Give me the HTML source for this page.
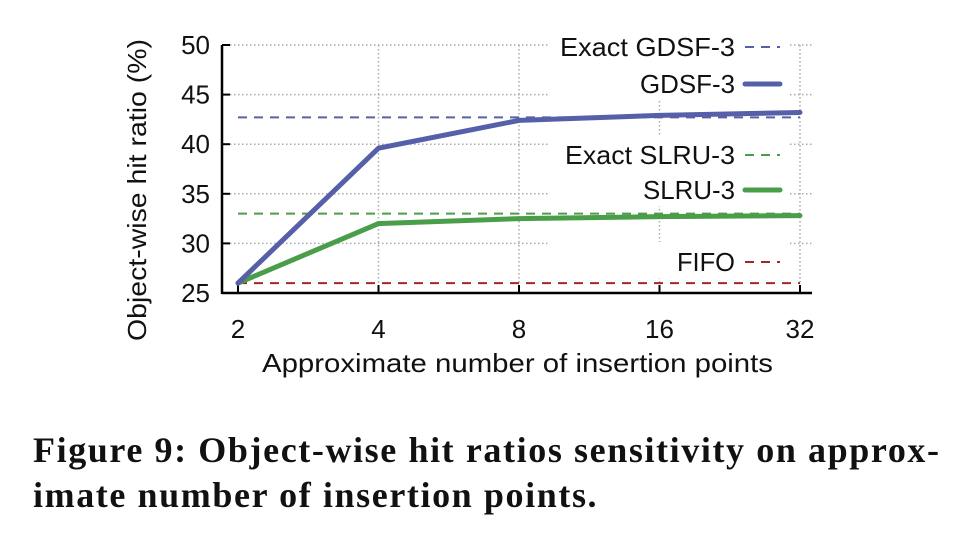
<!DOCTYPE html>
<html><head><meta charset="utf-8"><style>
body{margin:0;background:#fff;width:970px;height:548px;overflow:hidden}
svg text{font-family:"Liberation Sans",sans-serif}
.cap{position:absolute;left:33px;top:428px;font:bold 36px/45px "Liberation Serif",serif;letter-spacing:1.6px;color:#111;width:935px;white-space:nowrap}
</style></head><body>
<svg id="c" width="970" height="548" style="position:absolute;left:0;top:0"></svg>
<div class="cap">Figure 9: Object-wise hit ratios sensitivity on approx-<br>imate number of insertion points.</div>
<script>
const categories=["2","4","8","16","32"];
const gdsf=[26,39.6,42.4,42.9,43.2];
const slru=[26,32,32.5,32.7,32.8];
const exactGdsf=42.7, exactSlru=33, fifo=26;
const yTicks=[25,30,35,40,45,50];
const NS="http://www.w3.org/2000/svg";
const svg=document.getElementById('c');
const X0=238,X1=800,Y0=293,Y1=45,L=222,R=812;
const xs=i=>X0+(X1-X0)*i/(categories.length-1);
const ys=v=>Y0-(v-25)/25*(Y0-Y1);
function el(t,a,name,p){const e=document.createElementNS(NS,t);for(const k in a)e.setAttribute(k,a[k]);


(p||svg).appendChild(e);return e;}
yTicks.forEach(v=>{if(v===25)return;const end=v===50?555:548;
el('line',{x1:L,x2:end,y1:ys(v),y2:ys(v),stroke:'#aaa','stroke-width':1.5,'stroke-dasharray':'1.5 2.5'},'grid-line-y');
el('line',{x1:790,x2:R,y1:ys(v),y2:ys(v),stroke:'#aaa','stroke-width':1.5,'stroke-dasharray':'1.5 2.5'},'grid-line-y');
el('line',{x1:L,x2:L+8,y1:ys(v),y2:ys(v),stroke:'#000','stroke-width':2},'y-tick');
el('text',{x:210,y:ys(v)+9,'text-anchor':'end','font-size':26,fill:'#111'},'y-tick-label').textContent=v;});
el('text',{x:210,y:ys(25)+9,'text-anchor':'end','font-size':26,fill:'#111'},'y-tick-label').textContent=25;
categories.forEach((c,i)=>{const x=xs(i);
if(i>0)el('line',{x1:x,x2:x,y1:Y1,y2:Y0,stroke:'#aaa','stroke-width':1.5,'stroke-dasharray':'1.5 2.5'},'grid-line-x');
el('line',{x1:x,x2:x,y1:Y0,y2:Y0-8,stroke:'#000','stroke-width':2},'x-tick');
el('text',{x:x,y:338,'text-anchor':'middle','font-size':26,fill:'#111'},'x-tick-label').textContent=c;});
el('line',{x1:L,x2:L,y1:Y1,y2:Y0+1,stroke:'#000','stroke-width':2.5},'y-axis');
el('line',{x1:L,x2:R,y1:Y0,y2:Y0,stroke:'#000','stroke-width':2.5},'x-axis');
el('text',{x:262,y:372,'font-size':26,fill:'#111',textLength:511,lengthAdjust:'spacingAndGlyphs'},'x-axis-title').textContent='Approximate number of insertion points';
el('text',{x:0,y:0,'font-size':26,fill:'#111',textLength:302,lengthAdjust:'spacingAndGlyphs',transform:'translate(146,341) rotate(-90)'},'y-axis-title').textContent='Object-wise hit ratio (%)';
[[exactGdsf,'#5560a8','exact-gdsf-line'],[exactSlru,'#4a9e4a','exact-slru-line'],[fifo,'#a02828','fifo-line']].forEach(([v,c,n])=>
el('line',{x1:X0,x2:X1,y1:ys(v),y2:ys(v),stroke:c,'stroke-width':2,'stroke-dasharray':'9 7'},n));
function series(d,c,n){el('polyline',{points:d.map((v,i)=>xs(i)+','+ys(v)).join(' '),fill:'none',stroke:c,'stroke-width':5,'stroke-linejoin':'round','stroke-linecap':'round'},n);}
series(slru,'#4a9e4a','slru-line');series(gdsf,'#5560a8','gdsf-line');
const leg=[['Exact GDSF-3','#5560a8',true,47,175],['GDSF-3','#5560a8',false,84,95],['Exact SLRU-3','#4a9e4a',true,155,170],['SLRU-3','#4a9e4a',false,190,92],['FIFO','#a02828',true,262,58]];
leg.forEach(([t,c,d,y,w])=>{const g=el('g',{},'legend-entry');
el('rect',{x:550,y:y-20,width:190,height:36,fill:'#fff'},'legend-bg',g);
el('text',{x:735-w,y:y+9,'font-size':26,fill:'#111',textLength:w,lengthAdjust:'spacingAndGlyphs'},'legend-label',g).textContent=t;
el('line',{x1:745,x2:780,y1:y,y2:y,stroke:c,'stroke-width':d?2:5,'stroke-dasharray':d?'9 7':'none','stroke-linecap':d?'butt':'round'},'legend-swatch',g);});
</script>
</body></html>
